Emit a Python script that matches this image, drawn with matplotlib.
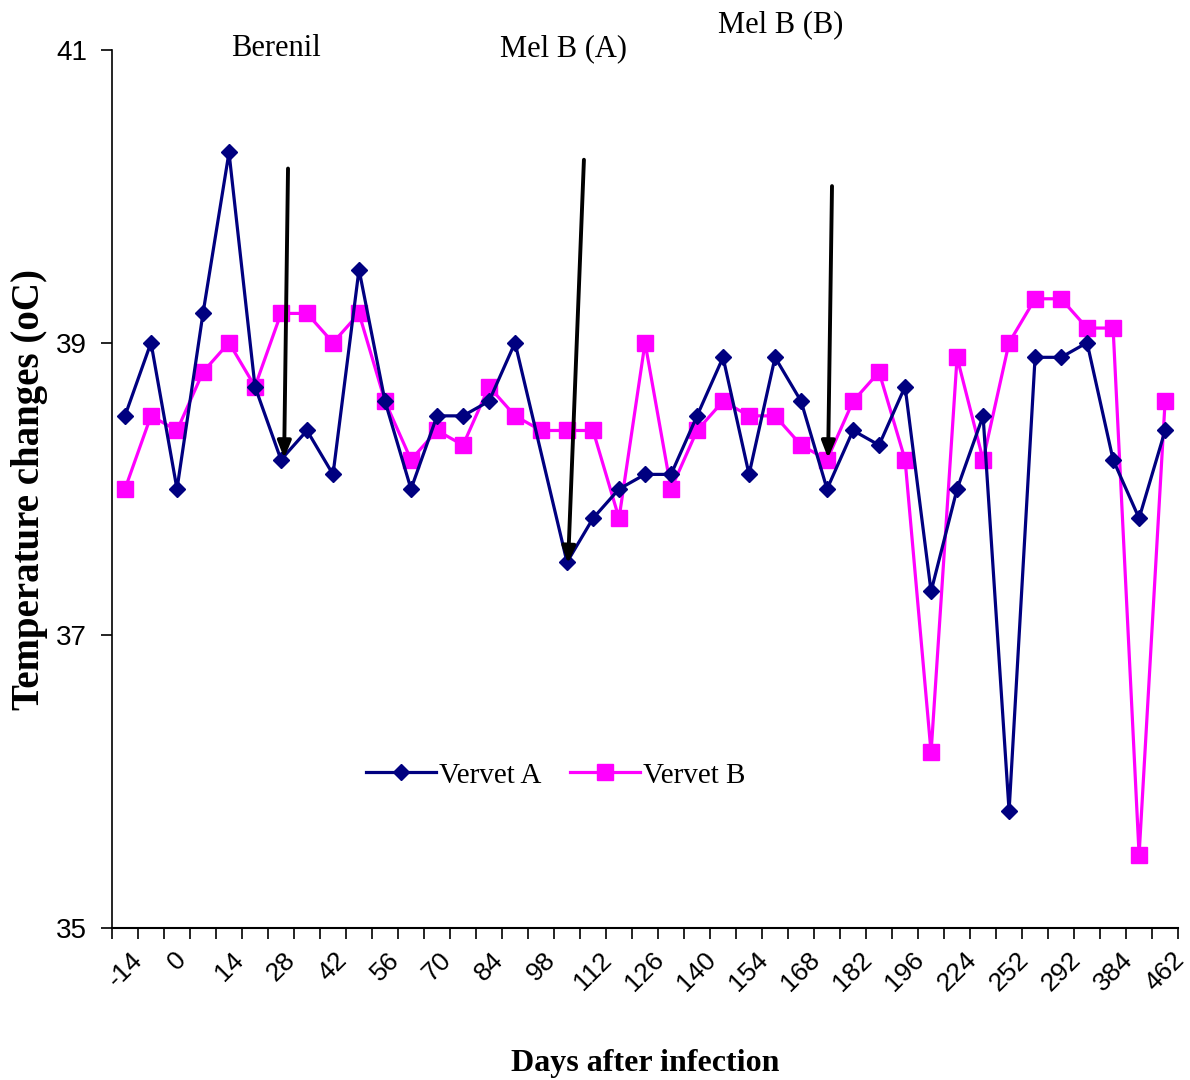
import matplotlib
matplotlib.use("Agg")
import matplotlib.pyplot as plt
import numpy as np

# days after infection (every other one is labelled on the axis)
days = ["-14", "-7", "0", "7", "14", "21", "28", "35", "42", "49", "56", "63",
        "70", "77", "84", "91", "98", "105", "112", "119", "126", "133", "140",
        "147", "154", "161", "168", "175", "182", "189", "196", "210", "224",
        "238", "252", "272", "292", "338", "384", "423", "462"]

vervet_a = [38.5, 39.0, 38.0, 39.2, 40.3, 38.7, 38.2, 38.4, 38.1, 39.5, 38.6,
            38.0, 38.5, 38.5, 38.6, 39.0, None, 37.5, 37.8, 38.0, 38.1, 38.1,
            38.5, 38.9, 38.1, 38.9, 38.6, 38.0, 38.4, 38.3, 38.7, 37.3, 38.0,
            38.5, 35.8, 38.9, 38.9, 39.0, 38.2, 37.8, 38.4]

vervet_b = [38.0, 38.5, 38.4, 38.8, 39.0, 38.7, 39.2, 39.2, 39.0, 39.2, 38.6,
            38.2, 38.4, 38.3, 38.7, 38.5, 38.4, 38.4, 38.4, 37.8, 39.0, 38.0,
            38.4, 38.6, 38.5, 38.5, 38.3, 38.2, 38.6, 38.8, 38.2, 36.2, 38.9,
            38.2, 39.0, 39.3, 39.3, 39.1, 39.1, 35.5, 38.6]

# treatment arrows: label, text pos, arrow start, arrow end (category index, temp)
treatments = [
    ("Berenil", (5.8, 41.01), (6.27, 40.19), (6.12, 38.21)),
    ("Mel B (A)", (16.85, 41.01), (17.65, 40.25), (17.04, 37.49)),
    ("Mel B (B)", (25.2, 41.17), (27.19, 40.07), (27.04, 38.21)),
]

fig = plt.figure(figsize=(11.9, 10.8), dpi=100)
ax = fig.add_axes([0.0941, 0.1407, 0.8959, 0.813])

idx = np.arange(len(days))
a_idx = [i for i, v in enumerate(vervet_a) if v is not None]
a_val = [v for v in vervet_a if v is not None]

ax.plot(a_idx, a_val, color="#000080", lw=2.3, marker="D", ms=8,
        label="Vervet A", zorder=3)
ax.plot(idx, vervet_b, color="#FF00FF", lw=2.3, marker="s", ms=11,
        label="Vervet B", zorder=2)

for name, tpos, start, end in treatments:
    ax.annotate("", xy=end, xytext=start,
                arrowprops=dict(arrowstyle="-|>,head_width=0.4,head_length=1.0",
                                color="black", lw=2.8, shrinkA=0, shrinkB=0),
                zorder=5, annotation_clip=False)
    ax.text(tpos[0], tpos[1], name, ha="center", va="center",
            family="Liberation Serif", fontsize=22, clip_on=False)

ax.set_xlim(-0.5, len(days) - 0.5)
ax.set_ylim(35, 41)
ax.set_yticks([35, 37, 39, 41])
ax.set_yticklabels(["35", "37", "39", "41"], family="Liberation Sans", fontsize=20)
ax.tick_params(axis="y", direction="out", length=8, width=1.2, pad=10)

ax.set_xticks(idx[::2])
ax.set_xticklabels(days[::2], rotation=45, family="Liberation Sans", fontsize=19)
ax.set_xticks(np.arange(-0.5, len(days)), minor=True)
ax.tick_params(axis="x", which="major", length=0, pad=14)
ax.tick_params(axis="x", which="minor", direction="out", length=8, width=1.2)
for lbl in ax.get_xticklabels():
    lbl.set_horizontalalignment("center")

for s in ["top", "right"]:
    ax.spines[s].set_visible(False)
ax.spines["left"].set_linewidth(1.2)
ax.spines["bottom"].set_linewidth(1.5)

ax.set_ylabel("Temperature changes (oC)", family="Liberation Serif",
              fontweight="bold", fontsize=28, labelpad=6)
ax.set_xlabel("Days after infection", family="Liberation Serif",
              fontweight="bold", fontsize=23, labelpad=38)

fig.legend(loc="center", bbox_to_anchor=(0.467, 0.282), ncol=2, frameon=False,
           prop={"family": "Liberation Serif", "size": 21},
           handlelength=2.4, columnspacing=1.0, handletextpad=0.1)

fig.savefig("out.png", dpi=100)
